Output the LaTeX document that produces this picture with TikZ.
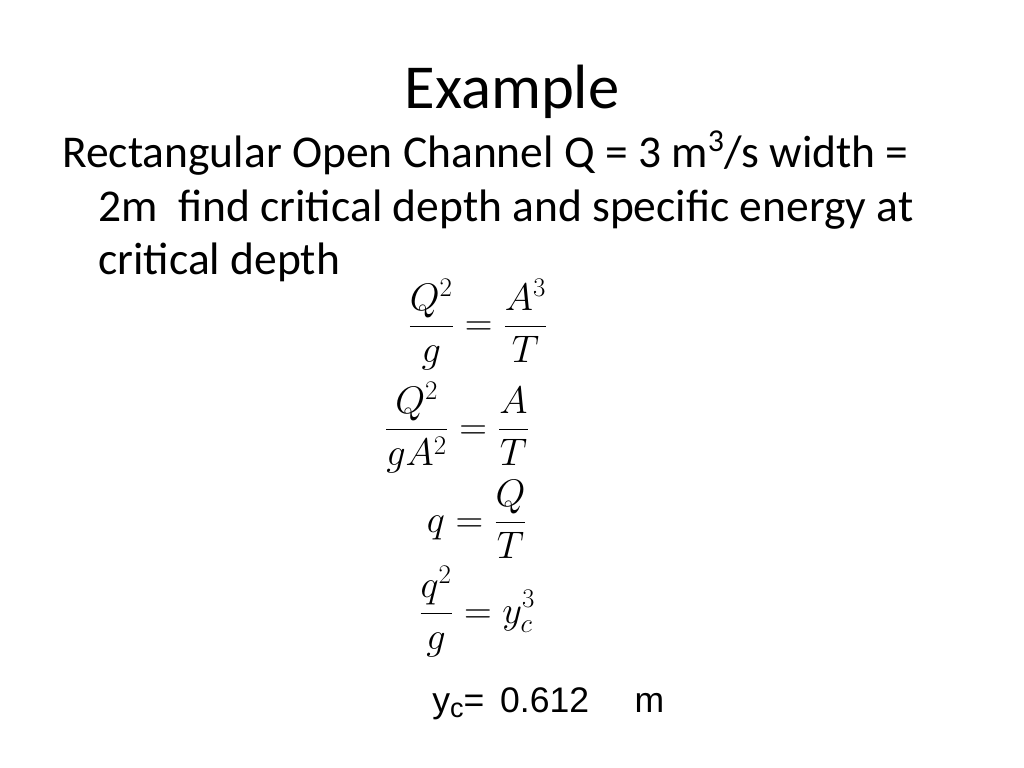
\RequirePackage{fix-cm}
\documentclass[tikz,border=0pt]{standalone}
\usepackage{amsmath}
\usepackage{fontspec}
\setmainfont{Carlito}
\newfontfamily\arialfont{Liberation Sans}
\tikzset{
  bodyline/.style={anchor=base west, inner sep=0pt, font=\fontsize{32}{38}\selectfont},
  eqline/.style={anchor=base, inner sep=0pt, font=\fontsize{27}{32}\selectfont}
}
\begin{document}
\begin{tikzpicture}[x=0.703125pt, y=-0.703125pt]
    \useasboundingbox (0, 0) rectangle (1024, 768);
    \node[anchor=base, inner sep=0pt, font=\fontsize{44}{50}\selectfont] (title) at (512, 109) {Example};
    \node[bodyline] (line1) at (62, 168) {Rectangular Open Channel Q = 3 m\textsuperscript{3}/s width =};
    \node[bodyline] (line2) at (98, 222) {2m\ \ find critical depth and specific energy at};
    \node[bodyline] (line3) at (98, 275) {critical depth};
    \node[eqline] (eq1) at (478, 336) {$\displaystyle \frac{Q^2}{g} = \frac{A^3}{T}$};
    \node[eqline] (eq2) at (457, 439) {$\displaystyle \frac{Q^2}{gA^2} = \frac{A}{T}$};
    \node[eqline] (eq3) at (477, 532) {$\displaystyle q = \frac{Q}{T}$};
    \node[eqline] (eq4) at (477, 623) {$\displaystyle \frac{q^2}{g} = y_c^3$};
    \node[anchor=base west, inner sep=0pt, font=\arialfont\fontsize{25}{29}\selectfont] (result) at (432, 712) {y\raisebox{-4pt}{\fontsize{19}{22}\selectfont c}= \,0.612\ \ \ \ \,m};
  \end{tikzpicture}
\end{document}
